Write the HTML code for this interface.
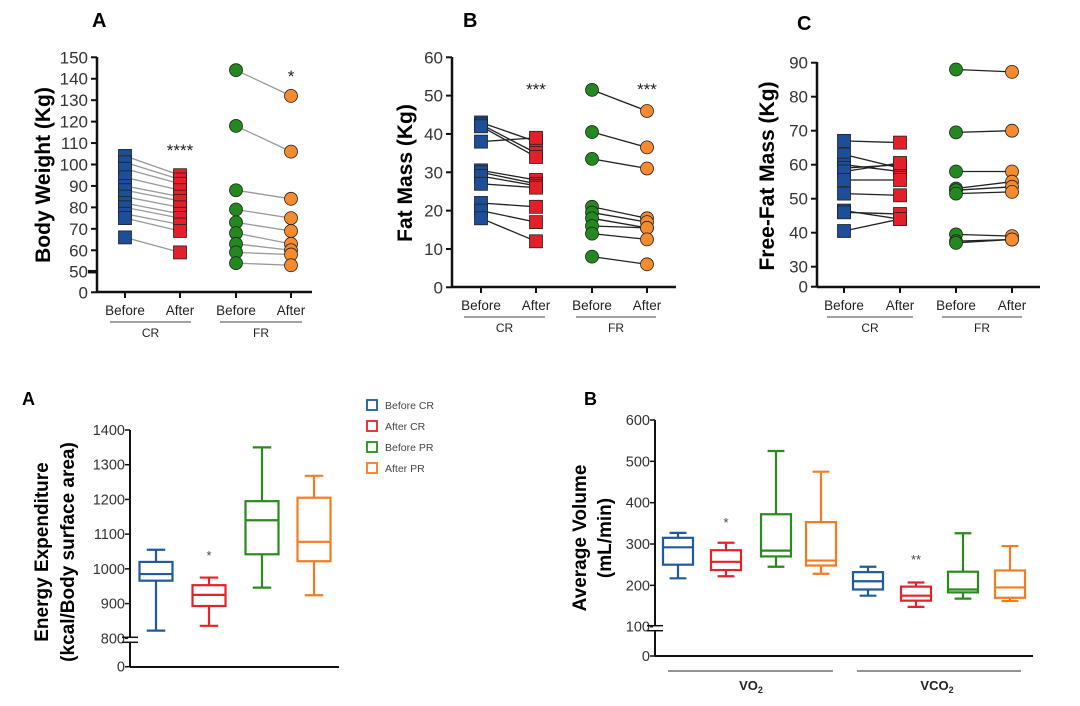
<!DOCTYPE html>
<html><head><meta charset="utf-8"><style>
html,body{margin:0;padding:0;background:#fff;}
svg{display:block;font-family:"Liberation Sans",Arial,sans-serif;}
</style></head><body>
<svg id="fig" width="1080" height="706" viewBox="0 0 1080 706" xmlns="http://www.w3.org/2000/svg"></svg>
<script>
// ---- Panel A (Body weight) data ----
const bwCRBefore = [104, 101, 98, 94, 90, 88, 85, 82, 80, 77, 75, 66];
const bwCRAfter  = [95, 93, 91, 88, 85, 83, 80, 77, 75, 72, 69, 59];
const bwFRBefore = [144, 118, 88, 79, 73, 68, 63, 59, 54];
const bwFRAfter  = [132, 106, 84, 75, 69, 63, 60, 58, 53];
const bwTicks = [0, 50, 60, 70, 80, 90, 100, 110, 120, 130, 140, 150];
// ---- Panel B (Fat mass) data ----
const fmCRBefore = [43, 42.5, 42, 38, 30.5, 30, 29, 27, 22, 20, 18];
const fmCRAfter  = [38, 35, 34, 39, 28, 27, 26.5, 26, 21, 17, 12];
const fmFRBefore = [51.5, 40.5, 33.5, 21, 19.5, 18, 16, 14, 8];
const fmFRAfter  = [46, 36.5, 31, 18, 17, 15.5, 15.5, 12.5, 6];
const fmTicks = [0, 10, 20, 30, 40, 50, 60];
// ---- Panel C (Free-fat mass) data ----
const ffCRBefore = [67, 63, 60, 59, 58, 55.5, 51.5, 46.5, 46, 40.5];
const ffCRAfter  = [66.5, 59, 58, 60, 60.5, 55.5, 51, 44, 45.5, 44];
const ffFRBefore = [88, 69.5, 58, 53, 52.5, 51.5, 39.5, 37.5, 37];
const ffFRAfter  = [87.3, 70, 58, 55, 53.5, 52, 39, 38, 38];
const ffTicks = [0, 30, 40, 50, 60, 70, 80, 90];
const catLabels = ["Before", "After", "Before", "After"];
const groupLabels = ["CR", "FR"];
// ---- Bottom A (Energy expenditure) box data ----
const eeGroups = ["Before CR", "After CR", "Before PR", "After PR"];
const eeMin = [822, 836, 946, 924];
const eeQ1  = [966, 893, 1042, 1022];
const eeMed = [985, 925, 1140, 1078];
const eeQ3  = [1020, 953, 1195, 1205];
const eeMax = [1055, 975, 1350, 1268];
const eeTicks = [0, 800, 900, 1000, 1100, 1200, 1300, 1400];
// ---- Bottom B (Average volume) box data ----
const avMin = [217, 222, 245, 228, 175, 148, 168, 162];
const avQ1  = [250, 237, 270, 248, 190, 163, 183, 170];
const avMed = [292, 257, 284, 260, 210, 175, 190, 195];
const avQ3  = [315, 285, 372, 353, 232, 197, 233, 236];
const avMax = [327, 303, 525, 475, 245, 207, 326, 295];
const avTicks = [0, 100, 200, 300, 400, 500, 600];

const NS = "http://www.w3.org/2000/svg";
const svg = document.getElementById("fig");
function mk(tag, attrs, parent, text) {
  const e = document.createElementNS(NS, tag);
  for (const k in attrs) e.setAttribute(k, attrs[k]);
  if (text !== undefined) e.textContent = text;
  (parent || svg).appendChild(e);
  return e;
}
const C = {blue:"#1d4e98", red:"#e3202a", green:"#23891f", orange:"#f58a2f"};
const BC = {blue:"#215a9c", red:"#e8202a", green:"#2a8a1e", orange:"#f47b20"};

function makeScale(lo, yLo, hi, yHi, brk, y0) {
  return function (v) {
    if (brk !== null && v < brk) return y0 + (yLo - y0) * (v / brk);
    return yLo + (v - lo) * (yHi - yLo) / (hi - lo);
  };
}

function panelTop(o) {
  const g = mk("g", {});
  
  
  const t = mk("text", {x:o.letterX, y:o.letterY, "font-size":20, "font-weight":"bold", fill:"#000"}, g, o.letter);
  
  
  const ya = mk("line", {x1:o.ax, y1:o.ytop, x2:o.ax, y2:o.y0, stroke:"#111", "stroke-width":2.5}, g);
  
  
  const xa = mk("line", {x1:o.ax, y1:o.y0, x2:o.xEnd, y2:o.y0, stroke:"#111", "stroke-width":2.5}, g);
  
  
  o.ticks.forEach(v => {
    const y = o.sy(v);
    const isBrk = (v === o.brk);
    mk("line", {x1:o.ax - (isBrk ? 9 : 6), y1:y, x2:o.ax, y2:y, stroke:"#111", "stroke-width": isBrk ? 3.5 : 2}, g);
    const tl = mk("text", {x:o.ax - 9, y:y + 6, "font-size":17, fill:"#333", "text-anchor":"end"}, g, String(v));
    
    
  });
  const yt = mk("text", {x:0, y:0, "font-size":21, "font-weight":"bold", fill:"#000", "text-anchor":"middle",
    transform:`translate(${o.titleX},${o.titleY}) rotate(-90)`}, g, o.title);
  
  
  o.cx.forEach((x, i) => {
    mk("line", {x1:x, y1:o.y0, x2:x, y2:o.y0 + 6, stroke:"#111", "stroke-width":2}, g);
    const cl = mk("text", {x:x, y:o.y0 + 23, "font-size":13.5, fill:"#222", "text-anchor":"middle"}, g, catLabels[i]);
    
    
  });
  o.under.forEach((u, i) => {
    mk("line", {x1:u[0], y1:o.y0 + 30, x2:u[1], y2:o.y0 + 30, stroke:"#444", "stroke-width":1}, g);
    const gl = mk("text", {x:(u[0] + u[1]) / 2, y:o.y0 + 45, "font-size":12, fill:"#222", "text-anchor":"middle"}, g, groupLabels[i]);
    
    
  });
  const pairs = [[o.crB, o.crA, 0, C.blue, C.red, "sq"], [o.frB, o.frA, 2, C.green, C.orange, "ci"]];
  pairs.forEach(p => {
    const [b, a, k, cb, ca, sh] = p;
    b.forEach((v, i) => {
      const ln = mk("line", {x1:o.cx[k], y1:o.sy(v), x2:o.cx[k + 1], y2:o.sy(a[i]), stroke:o.lineCol, "stroke-width":1.3}, g);
      
      
    });
    [[b, o.cx[k], cb], [a, o.cx[k + 1], ca]].forEach(s => {
      s[0].forEach(v => {
        let m;
        if (sh === "sq") m = mk("rect", {x:s[1] - 6.5, y:o.sy(v) - 6.5, width:13, height:13, fill:s[2], stroke:"#222", "stroke-width":0.8}, g);
        else m = mk("circle", {cx:s[1], cy:o.sy(v), r:6.5, fill:s[2], stroke:"#222", "stroke-width":0.8}, g);
        
        
      });
    });
  });
  o.stars.forEach(s => {
    const st = mk("text", {x:s[0], y:s[1], "font-size":17, fill:"#222", "text-anchor":"middle"}, g, s[2]);
    
    
  });
}

panelTop({name:"body-weight-panel", letter:"A", letterX:92, letterY:27, ax:97, ytop:57, y0:292, xEnd:312,
  sy:makeScale(50, 271.7, 150, 57.3, 50, 292.3), ticks:bwTicks, brk:50,
  title:"Body Weight (Kg)", titleX:50, titleY:175,
  cx:[125, 180, 236, 291], under:[[110, 191], [220, 302]],
  crB:bwCRBefore, crA:bwCRAfter, frB:bwFRBefore, frA:bwFRAfter, lineCol:"#999",
  stars:[[180, 156, "****"], [291, 82, "*"]]});
panelTop({name:"fat-mass-panel", letter:"B", letterX:463, letterY:27, ax:452, ytop:57, y0:287, xEnd:676,
  sy:makeScale(0, 287.3, 60, 57.3, null, 0), ticks:fmTicks, brk:null,
  title:"Fat Mass (Kg)", titleX:412, titleY:173,
  cx:[481, 536, 592, 647], under:[[464, 545], [576, 656]],
  crB:fmCRBefore, crA:fmCRAfter, frB:fmFRBefore, frA:fmFRAfter, lineCol:"#222",
  stars:[[536, 95, "***"], [647, 95, "***"]]});
panelTop({name:"free-fat-mass-panel", letter:"C", letterX:797, letterY:30, ax:817, ytop:62, y0:287, xEnd:1040,
  sy:makeScale(30, 266.7, 90, 62.7, 30, 286.7), ticks:ffTicks, brk:null,
  title:"Free-Fat Mass (Kg)", titleX:774, titleY:176,
  cx:[844, 900, 956, 1012], under:[[827, 913], [942, 1022]],
  crB:ffCRBefore, crA:ffCRAfter, frB:ffFRBefore, frA:ffFRAfter, lineCol:"#222",
  stars:[]});

function panelBox(o) {
  const g = mk("g", {});
  
  
  const t = mk("text", {x:o.letterX, y:o.letterY, "font-size":18, "font-weight":"bold", fill:"#000"}, g, o.letter);
  
  
  const ya = mk("line", {x1:o.ax, y1:o.ytop, x2:o.ax, y2:o.y0, stroke:"#111", "stroke-width":2}, g);
  
  
  const xa = mk("line", {x1:o.ax, y1:o.y0, x2:o.xEnd, y2:o.y0, stroke:"#111", "stroke-width":2}, g);
  
  
  o.ticks.forEach(v => {
    const y = o.sy(v);
    mk("line", {x1:o.ax - 5, y1:y, x2:o.ax, y2:y, stroke:"#111", "stroke-width":1.5}, g);
    const tl = mk("text", {x:o.ax - 5, y:y + 5, "font-size":14.5, fill:"#333", "text-anchor":"end"}, g, String(v));
    
    
  });
  const by = o.sy(o.brk);
  mk("rect", {x:o.ax - 2, y:by - 1, width:4, height:5, fill:"#fff"}, g);
  mk("line", {x1:o.ax - 8, y1:by - 1, x2:o.ax + 8, y2:by - 1, stroke:"#111", "stroke-width":1.5}, g);
  mk("line", {x1:o.ax - 8, y1:by + 4, x2:o.ax + 8, y2:by + 4, stroke:"#111", "stroke-width":1.5}, g);
  o.titles.forEach((tt, i) => {
    const yt = mk("text", {x:0, y:0, "font-size":19, "font-weight":"bold", fill:"#000", "text-anchor":"middle",
      transform:`translate(${o.titleX[i]},${o.titleY}) rotate(-90)`}, g, tt);
    
    
  });
  const cols = [BC.blue, BC.red, BC.green, BC.orange];
  o.cx.forEach((x, i) => {
    const col = cols[i % 4], hw = o.bw / 2, cw = o.bw * 0.28;
    const bg = mk("g", {stroke:col, "stroke-width":2.2, fill:"none"}, g);
    
    
    mk("line", {x1:x, y1:o.sy(o.max[i]), x2:x, y2:o.sy(o.q3[i])}, bg);
    mk("line", {x1:x, y1:o.sy(o.q1[i]), x2:x, y2:o.sy(o.min[i])}, bg);
    mk("line", {x1:x - cw, y1:o.sy(o.max[i]), x2:x + cw, y2:o.sy(o.max[i])}, bg);
    mk("line", {x1:x - cw, y1:o.sy(o.min[i]), x2:x + cw, y2:o.sy(o.min[i])}, bg);
    mk("rect", {x:x - hw, y:o.sy(o.q3[i]), width:o.bw, height:o.sy(o.q1[i]) - o.sy(o.q3[i])}, bg);
    mk("line", {x1:x - hw, y1:o.sy(o.med[i]), x2:x + hw, y2:o.sy(o.med[i])}, bg);
  });
  o.stars.forEach(s => {
    const st = mk("text", {x:s[0], y:s[1], "font-size":13, fill:"#444", "text-anchor":"middle"}, g, s[2]);
    
    
  });
  return g;
}

panelBox({name:"energy-expenditure-panel", letter:"A", letterX:22, letterY:405, ax:130, ytop:430, y0:667, xEnd:339,
  sy:makeScale(800, 638.3, 1400, 430, 800, 666.7), ticks:eeTicks, brk:800,
  titles:["Energy Expenditure", "(kcal/Body surface area)"], titleX:[48, 74], titleY:552,
  cx:[156, 209, 262, 314], bw:33,
  min:eeMin, q1:eeQ1, med:eeMed, q3:eeQ3, max:eeMax,
  stars:[[209, 560, "*"]]});

panelBox({name:"average-volume-panel", letter:"B", letterX:584, letterY:405, ax:655, ytop:420, y0:656, xEnd:1033,
  sy:makeScale(100, 626.7, 600, 420, 100, 656), ticks:avTicks, brk:100,
  titles:["Average Volume", "(mL/min)"], titleX:[586, 611], titleY:538,
  cx:[678, 726, 776, 821, 868, 916, 963, 1010], bw:30,
  min:avMin, q1:avQ1, med:avMed, q3:avQ3, max:avMax,
  stars:[[726, 527, "*"], [916, 564, "**"]]});

// VO2 / VCO2 group labels
[[668, 833, "VO", 751], [857, 1021, "VCO", 937]].forEach(u => {
  mk("line", {x1:u[0], y1:671, x2:u[1], y2:671, stroke:"#555", "stroke-width":1.2});
  const t = mk("text", {x:u[3], y:690, "font-size":13, "font-weight":"bold", fill:"#222", "text-anchor":"middle"});
  
  
  t.appendChild(document.createTextNode(u[2]));
  mk("tspan", {"font-size":9, dy:3}, t, "2");
});

// Legend
const legCols = [BC.blue, BC.red, BC.green, BC.orange];
eeGroups.forEach((lab, i) => {
  const y = 405 + i * 21;
  const lg = mk("g", {});
  
  
  mk("rect", {x:367, y:y - 5, width:10, height:10, fill:"none", stroke:legCols[i], "stroke-width":1.8}, lg);
  mk("text", {x:385, y:y + 4, "font-size":10.5, fill:"#444"}, lg, lab);
});
</script>
</body></html>
